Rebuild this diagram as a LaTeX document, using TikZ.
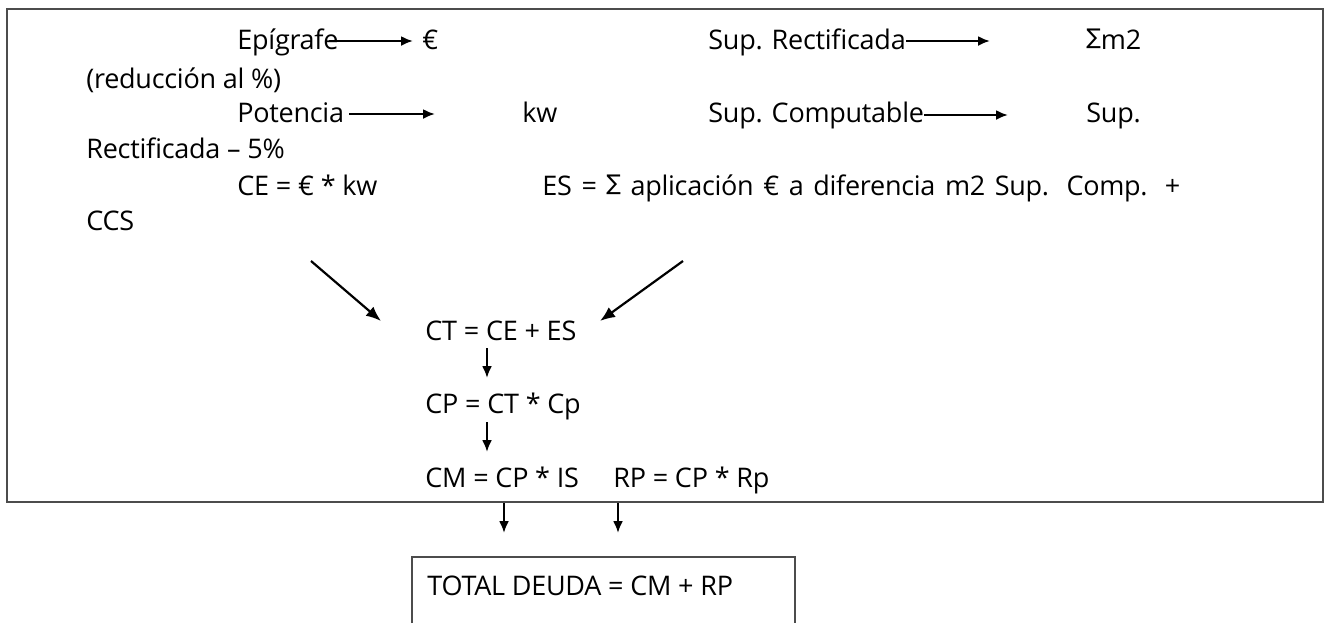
\documentclass[tikz,border=0pt]{standalone}
\usepackage{fontspec}
\setmainfont{Open Sans}[LetterSpace=-1]
\newfontfamily\sumfont{DejaVu Sans}
\usetikzlibrary{arrows.meta}

\tikzset{
    txt/.style={anchor=base west, inner sep=0pt, font=\fontsize{13.5}{16}\selectfont},
    arr/.style={line width=1.1pt, -{Latex[length=6pt,width=5pt]}},
    darr/.style={line width=1.1pt, -{Latex[length=7.5pt,width=6pt]}},
    frame/.style={draw=black!70, line width=0.7pt}
}
\newcommand{\sumsign}{\raisebox{0.16em}{\scalebox{0.8}{\sumfont ∑}}}

\begin{document}
\begin{tikzpicture}[x=0.5pt,y=-0.5pt]
            \useasboundingbox (0,0) rectangle (1329,623);
            \draw[frame] (7,9) rectangle (1323,502);
            \begin{scope}
                \node[txt] (epi) at (237,49) {Epígrafe};
                \node[txt] (eur) at (422,49) {€};
                \node[txt] (red) at (86,88) {(reducción al \%)};
                \node[txt] (pot) at (237,122) {Potencia};
                \node[txt] (kw) at (522,122) {kw};
                \node[txt] (rect5) at (86,158) {Rectificada – 5\%};
                \node[txt] (ce) at (237,195) {CE = € * kw};
                \node[txt] (ccs) at (86,230) {CCS};
            \end{scope}
            \begin{scope}
                \node[txt] (srect) at (708,49) {Sup. Rectificada};
                \node[txt] (sm2) at (1086,49) {\sumsign m2};
                \node[txt] (scomp) at (708,122) {Sup. Computable};
                \node[txt] (ssup) at (1086,122) {Sup.};
                \node[txt] (es) at (542,195) {\makebox[319pt][s]{ES = \sumsign{} aplicación € a diferencia m2 Sup. Comp. +}};
            \end{scope}
            \draw[arr] ([shift={(-10,-8)}]epi.base east) -- ([shift={(-9,-8)}]eur.base west);
            \draw[arr] ([shift={(5,-8)}]pot.base east) -- ([shift={(-87,-8)}]kw.base west);
            \draw[arr] ([shift={(0,-8)}]srect.base east) -- ([shift={(-96,-8)}]sm2.base west);
            \draw[arr] ([shift={(0,-7)}]scomp.base east) -- ([shift={(-78,-7)}]ssup.base west);
            \begin{scope}
                \node[txt] (ct) at (425,340) {CT = CE + ES};
                \node[txt] (cp) at (425,413) {CP = CT * Cp};
                \node[txt] (cm) at (425,487) {CM = CP * IS};
                \node[txt] (rp) at (613,487) {RP = CP * Rp};
            \end{scope}
            \coordinate (ce-tail) at (311,261);
            \coordinate (es-tail) at (683,261);
            \draw[darr] (ce-tail) -- ([shift={(-44,-19)}]ct.base west);
            \draw[darr] (es-tail) -- ([shift={(175,-19)}]ct.base west);
            \draw[arr] ([shift={(62,8)}]ct.base west) -- ++(0,30);
            \draw[arr] ([shift={(62,9)}]cp.base west) -- ++(0,30);
            \draw[arr] ([shift={(79,16)}]cm.base west) -- ++(0,30);
            \draw[arr] ([shift={(5,16)}]rp.base west) -- ++(0,30);
            \draw[frame] (412,623) |- (795,557) -- (795,623);
            \node[txt] (total) at (427,595) {TOTAL DEUDA = CM + RP};
        \end{tikzpicture}
\end{document}
